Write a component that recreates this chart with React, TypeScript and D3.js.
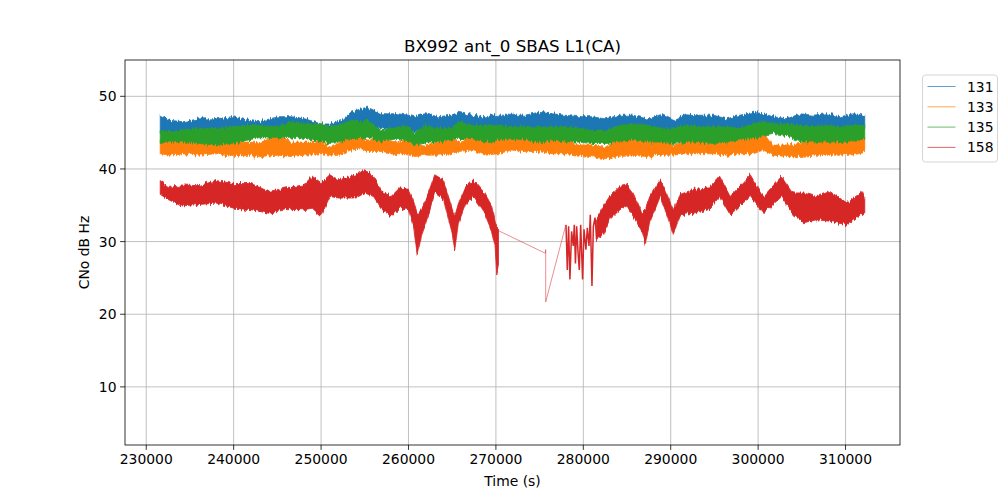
import * as d3 from 'd3';

// shared time grid for the three upper series (s)
const topTimes = [
  231600, 232700, 234200, 236100, 238000, 239900, 241700, 242900, 245100, 246600,
  248150, 250000, 251100, 252400, 253400, 254600, 255300, 256900, 258800, 260000,
  260700, 261900, 263400, 264900, 265700, 267200, 268800, 270300, 271800, 273300,
  274900, 276400, 277900, 279400, 280900, 282500, 284200, 285700, 287250, 288800,
  290300, 291800, 293400, 294900, 296400, 297900, 299450, 300600, 301700, 303300,
  304800, 306300, 307800, 309400, 310900, 312200,
];

// PRN 131 (upper / lower edge of the noise band)
const blueHi = [
  47.4, 46.7, 46.5, 46.9, 46.9, 47.2, 46.7, 46.5, 47.2, 47.2,
  46.9, 46.2, 46.2, 46.7, 47.8, 48.3, 48.5, 47.6, 47.6, 47.4,
  47.2, 47.6, 47.2, 47.4, 47.8, 47.4, 47.2, 47.4, 47.4, 47.4,
  47.8, 47.6, 47.4, 47.2, 47.2, 46.9, 47.4, 47.4, 46.9, 47.6,
  46.7, 47.6, 47.4, 47.4, 46.9, 47.4, 47.8, 47.6, 47.2, 46.9,
  47.6, 47.4, 47.6, 47.2, 47.6, 47.4,
];
const blueLo = [
  44.9, 44.7, 44.9, 45.2, 45.2, 45.4, 45.6, 45.6, 45.4, 45.8,
  45.8, 45.6, 45.4, 45.8, 46.0, 45.8, 46.0, 45.6, 45.4, 45.4,
  45.1, 45.6, 45.2, 45.2, 45.8, 45.6, 45.6, 45.6, 45.4, 45.4,
  45.4, 45.4, 45.4, 45.2, 44.9, 44.9, 45.6, 45.8, 45.6, 45.2,
  45.2, 45.6, 45.4, 45.4, 45.4, 45.2, 45.8, 46.0, 45.8, 45.8,
  45.6, 45.4, 45.6, 45.4, 45.6, 45.6,
];

// PRN 133
const orangeHi = [
  44.0, 44.0, 43.7, 44.0, 43.7, 43.7, 43.7, 43.6, 44.6, 43.7,
  43.7, 43.7, 43.0, 43.7, 44.9, 44.4, 44.0, 44.0, 43.7, 44.0,
  43.5, 43.3, 43.7, 44.4, 43.7, 44.4, 44.0, 44.0, 44.2, 44.4,
  44.2, 44.0, 44.0, 43.3, 43.3, 43.0, 44.2, 44.0, 43.7, 44.2,
  43.3, 43.7, 44.2, 44.0, 43.7, 44.0, 44.2, 45.1, 43.3, 43.3,
  43.5, 44.0, 44.2, 43.7, 44.0, 44.4,
];
const orangeLo = [
  42.1, 41.9, 42.1, 41.9, 42.1, 41.7, 41.9, 41.7, 41.9, 41.7,
  41.9, 42.1, 41.9, 42.1, 42.6, 42.8, 42.4, 42.4, 42.1, 42.1,
  41.7, 41.9, 41.9, 42.1, 42.4, 42.6, 41.9, 42.1, 42.6, 42.4,
  42.4, 42.1, 42.1, 41.9, 41.7, 41.4, 41.9, 41.9, 41.7, 41.9,
  41.9, 42.1, 42.1, 42.1, 41.9, 42.1, 42.1, 42.6, 41.9, 41.7,
  41.7, 41.9, 41.9, 41.9, 42.1, 42.4,
];

// PRN 135
const greenHi = [
  45.3, 45.1, 45.3, 45.6, 45.6, 45.8, 46.0, 46.0, 45.8, 46.5,
  46.2, 46.2, 45.8, 46.2, 46.7, 46.5, 46.7, 45.3, 45.8, 45.8,
  44.9, 46.0, 45.6, 45.6, 46.5, 46.0, 46.0, 46.0, 45.8, 45.8,
  45.8, 45.8, 45.8, 45.6, 45.3, 45.3, 46.0, 46.2, 46.0, 45.6,
  45.6, 46.0, 45.8, 45.8, 45.8, 45.6, 46.2, 46.5, 46.2, 46.2,
  46.0, 45.8, 46.0, 45.8, 46.0, 46.0,
];
const greenLo = [
  43.5, 43.7, 43.7, 43.5, 43.3, 43.5, 44.0, 44.3, 44.2, 44.4,
  44.2, 43.7, 43.5, 43.7, 44.2, 44.2, 44.4, 43.7, 44.2, 43.7,
  43.3, 43.7, 43.7, 44.0, 44.2, 44.2, 43.7, 44.0, 44.2, 44.0,
  43.7, 44.0, 43.7, 43.7, 43.5, 43.5, 43.7, 44.0, 43.7, 43.7,
  43.5, 43.7, 43.7, 43.5, 43.7, 44.0, 44.2, 44.6, 44.9, 44.6,
  43.7, 43.7, 43.7, 43.7, 43.7, 44.2,
];

// PRN 158, first pass
const redTimesA = [
  231600, 232500, 234000, 236000, 238000, 240000, 242000, 244000, 246000, 248000,
  249000, 250000, 251000, 252000, 254000, 255000, 256000, 257000, 258000, 259000,
  260000, 260600, 261000, 261500, 262000, 263000, 264000, 265000, 265300, 265700,
  266500, 267400, 268700, 269500, 269900, 270100, 270300,
];
const redHiA = [
  38.4, 37.6, 37.8, 37.7, 38.4, 38.0, 38.0, 36.9, 37.4, 37.8,
  39.0, 38.1, 39.2, 38.5, 39.2, 39.9, 39.0, 36.9, 36.2, 37.4,
  37.2, 35.5, 33.7, 34.5, 35.8, 39.2, 38.5, 34.5, 33.5, 35.2,
  37.5, 38.5, 36.7, 35.0, 32.8, 32.0, 31.6,
];
const redLoA = [
  36.5, 35.8, 34.9, 35.1, 35.3, 34.6, 34.4, 33.9, 34.4, 34.4,
  34.6, 33.5, 36.2, 36.0, 36.0, 36.7, 36.2, 34.4, 33.5, 34.6,
  34.4, 32.0, 28.2, 31.0, 32.6, 36.7, 35.8, 31.0, 28.9, 32.5,
  35.0, 36.2, 33.9, 31.5, 29.4, 25.4, 26.8,
];

// PRN 158, sparse samples across the gap and the spiky re-acquisition
const redGapTimes = [270300, 275650, 275700, 275700, 278000];
const redGapValues = [31.5, 28.4, 28.9, 21.7, 32.3];
const redSpikeTimes = [
  278020, 278170, 278320, 278470, 278660, 278850, 278970, 279100, 279240, 279400,
  279540, 279700, 279920, 280080, 280300, 280460, 280650, 280800, 280990, 281150,
  281340, 281530,
];
const redSpikeValues = [
  32.3, 26.1, 32.1, 24.8, 31.4, 29.4, 32.3, 27.0, 32.1, 28.5,
  26.1, 32.3, 24.8, 31.7, 28.9, 31.9, 29.4, 33.7, 23.9, 32.1,
  33.3, 30.3,
];

// PRN 158, second pass
const redTimesB = [
  281500, 282300, 283000, 284200, 285000, 285700, 286700, 287100, 287600, 288800,
  289500, 290300, 291100, 292600, 294500, 295600, 296800, 299100, 300600, 302700,
  304000, 305200, 306700, 308200, 310200, 311900, 312200,
];
const redHiB = [
  33.0, 34.9, 36.2, 37.6, 37.8, 36.7, 33.9, 34.4, 36.2, 38.5,
  36.7, 34.4, 36.5, 37.2, 37.4, 39.0, 36.2, 39.2, 36.2, 39.0,
  36.7, 36.7, 36.2, 36.9, 35.3, 36.9, 36.0,
];
const redLoB = [
  30.3, 31.0, 33.0, 34.4, 34.9, 33.5, 31.4, 29.6, 32.6, 36.2,
  33.9, 31.0, 33.7, 33.9, 34.6, 36.2, 33.7, 36.2, 33.9, 36.2,
  33.7, 32.6, 33.0, 32.8, 32.3, 33.9, 33.8,
];

const xTicks = [230000, 240000, 250000, 260000, 270000, 280000, 290000, 300000, 310000];
const yTicks = [10, 20, 30, 40, 50];
const legendNames = ['131', '133', '135', '158'];
const colors = ['#1f77b4', '#ff7f0e', '#2ca02c', '#d62728'];

const FONT = 'DejaVu Sans, sans-serif';

export default function App() {
  const left = 125, right = 900, top = 60, bottom = 445;
  const x = d3.scaleLinear().domain([227570, 316230]).range([left, right]);
  const y = d3.scaleLinear().domain([2, 55]).range([bottom, top]);

  const band = (times: number[], hi: number[], lo: number[]) =>
    d3.area<number>()
      .x((_, i) => x(times[i]))
      .y0((_, i) => y(lo[i]))
      .y1((d) => y(d))(hi) || '';

  const line = (times: number[], vals: number[]) =>
    d3.line<number>()
      .x((_, i) => x(times[i]))
      .y((d) => y(d))(vals) || '';

  const bands = [
    { c: colors[0], d: band(topTimes, blueHi, blueLo) },
    { c: colors[1], d: band(topTimes, orangeHi, orangeLo) },
    { c: colors[2], d: band(topTimes, greenHi, greenLo) },
    { c: colors[3], d: band(redTimesA, redHiA, redLoA) },
    { c: colors[3], d: band(redTimesB, redHiB, redLoB) },
  ];

  return (
    <svg width={1000} height={500} style={{ position: 'absolute', left: 0, top: 0, background: '#fff' }}
      fontFamily={FONT}>
      <defs>
        {/* ragged edges so the min/max bands read like dense noisy traces */}
        <filter id="rough" x="-2%" y="-30%" width="104%" height="160%">
          <feTurbulence type="fractalNoise" baseFrequency="0.55 0.04" numOctaves={2} seed={4} result="n" />
          <feColorMatrix in="n" type="matrix"
            values="1 0 0 0 0  0 0 0 0 0.5  0 0 0 0 0  0 0 0 0 1" result="m" />
          <feDisplacementMap in="SourceGraphic" in2="m" scale={7} xChannelSelector="G" yChannelSelector="R" />
        </filter>
      </defs>
      <rect x={0} y={0} width={1000} height={500} fill="#fff" />
      {/* grid */}
      {xTicks.map((t) => (
        <line key={'gx' + t} x1={x(t)} x2={x(t)} y1={top} y2={bottom} stroke="#b0b0b0" strokeWidth={0.8} />
      ))}
      {yTicks.map((t) => (
        <line key={'gy' + t} x1={left} x2={right} y1={y(t)} y2={y(t)} stroke="#b0b0b0" strokeWidth={0.8} />
      ))}

      <g filter="url(#rough)">
        {bands.map((b, i) => (
          <path key={i} d={b.d} fill={b.c} stroke={b.c} strokeWidth={0.8} strokeLinejoin="round" />
        ))}
      </g>
      <path d={line(redGapTimes, redGapValues)} fill="none" stroke={colors[3]} strokeWidth={0.7} strokeOpacity={0.75} />
      <path d={line(redSpikeTimes, redSpikeValues)} fill="none" stroke={colors[3]} strokeWidth={1.5} />

      {/* frame */}
      <rect x={left} y={top} width={right - left} height={bottom - top} fill="none" stroke="#000" strokeWidth={0.8} />

      {/* x axis */}
      {xTicks.map((t) => (
        <g key={'tx' + t}>
          <line x1={x(t)} x2={x(t)} y1={bottom} y2={bottom + 4.9} stroke="#000" strokeWidth={0.8} />
          <text x={x(t)} y={bottom + 19} fontSize={13.9} textAnchor="middle">{t}</text>
        </g>
      ))}
      {yTicks.map((t) => (
        <g key={'ty' + t}>
          <line x1={left - 4.9} x2={left} y1={y(t)} y2={y(t)} stroke="#000" strokeWidth={0.8} />
          <text x={left - 8.5} y={y(t)} dy="0.36em" fontSize={13.9} textAnchor="end">{t}</text>
        </g>
      ))}

      <text x={(left + right) / 2} y={486} fontSize={13.9} textAnchor="middle">Time (s)</text>
      <text transform={`translate(89,${(top + bottom) / 2}) rotate(-90)`} fontSize={13.9} textAnchor="middle">CNo dB Hz</text>
      <text x={(left + right) / 2} y={52} fontSize={16.7} textAnchor="middle">BX992 ant_0 SBAS L1(CA)</text>

      {/* legend */}
      <rect x={922.5} y={75} width={75} height={87} rx={3} fill="#fff" fillOpacity={0.8} stroke="#d0d0d0" strokeWidth={0.9} />
      {legendNames.map((n, i) => (
        <g key={n}>
          <line x1={927.5} x2={955.5} y1={86.5 + i * 20.3} y2={86.5 + i * 20.3} stroke={colors[i]} strokeWidth={1} strokeOpacity={0.7} />
          <text x={967} y={86.5 + i * 20.3} dy="0.36em" fontSize={13.9}>{n}</text>
        </g>
      ))}
    </svg>
  );
}
